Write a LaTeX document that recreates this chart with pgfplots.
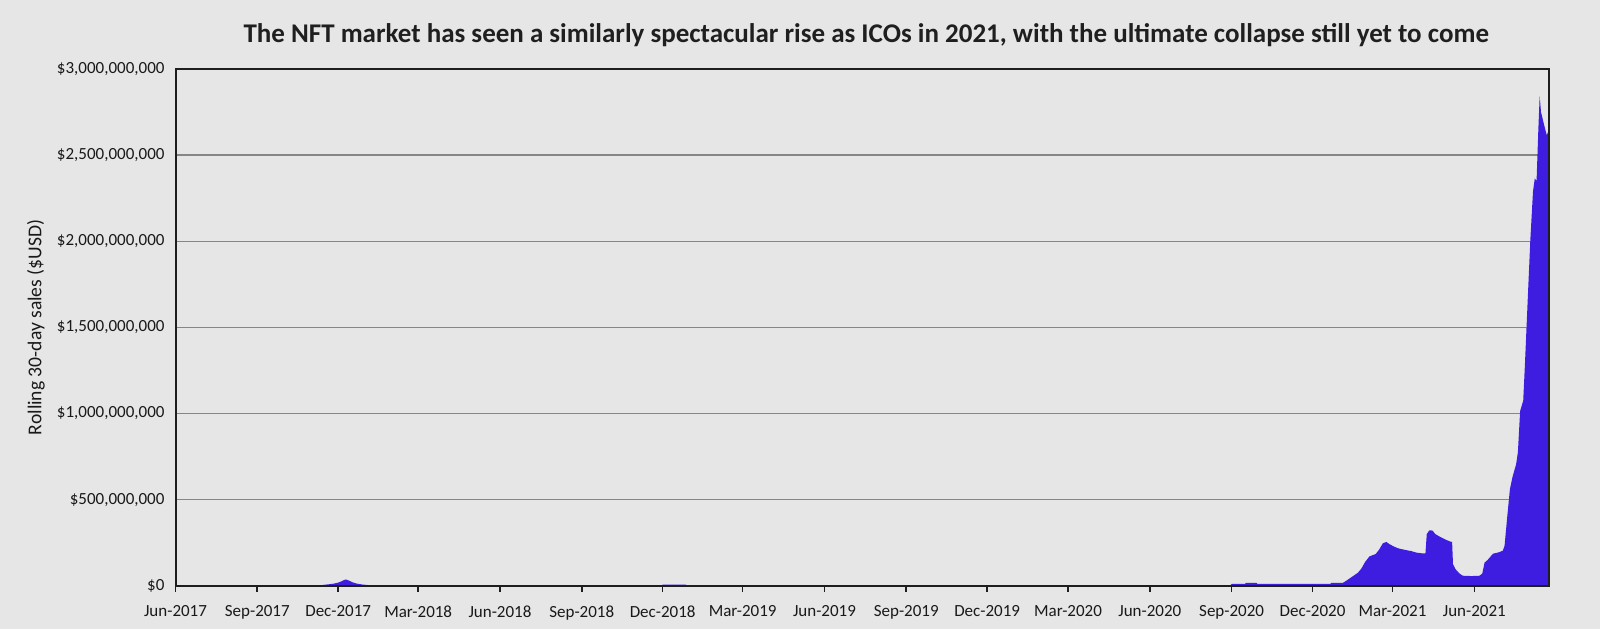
\documentclass[border=0pt]{standalone}
\usepackage{pgfplots}
\pgfplotsset{compat=1.18}
\usepackage{fontspec}
\setmainfont{Carlito}
\definecolor{bg}{RGB}{230,230,230}
\definecolor{nftblue}{RGB}{62,28,224}
\definecolor{gridgray}{RGB}{134,134,134}
\definecolor{framec}{RGB}{30,30,30}
\pagecolor{bg}
\pgfplotsset{
  layers/mylayers/.define layer set={
    axis background,axis grid,main,axis ticks,axis lines,axis tick labels,axis descriptions,axis foreground
  }{
    grid style={/pgfplots/on layer=axis grid},
    tick style={/pgfplots/on layer=axis ticks},
    axis line style={/pgfplots/on layer=axis lines},
    label style={/pgfplots/on layer=axis descriptions},
    title style={/pgfplots/on layer=axis descriptions},
    ticklabel style={/pgfplots/on layer=axis tick labels},
  },
}
\pgfplotstableread{
d v
0 0
150 0
160 1
165 4
172 8
178 12
183 18
187 26
190 34
192 36
195 30
199 20
204 12
210 7
216 4
222 1.5
230 0.5
280 0.3
546 0.3
548 6
574 6
576 0.5
900 0.5
1186 0.5
1188 10
1203 10
1204 16
1216 16
1217 10
1299 10
1300 16
1313 16
1317 29
1324 54
1330 75
1334 100
1338 137
1343 170
1350 184
1354 210
1358 246
1362 254
1366 240
1371 226
1376 216
1384 207
1390 201
1396 192
1402 188
1406 188
1407.5 300
1410.5 322
1414 320
1417 300
1422 285
1428 269
1434 256
1436 254
1437 125
1440 95
1444 72
1448 58
1458 56
1467 58
1470 72
1472.5 134
1476 150
1482 186
1488 193
1493 203
1495 232
1498 400
1501 560
1504 633
1508 705
1510 775
1512.5 1014
1516 1075
1518 1295
1521 1655
1524 2010
1527 2290
1529 2365
1531 2350
1533 2650
1534.5 2843
1536 2750
1539.5 2675
1542.5 2615
1545 2650
}\nft
\begin{document}
\begin{tikzpicture}
\path (0,0) rectangle (800pt,314.5pt);
\begin{axis}[
  set layers=mylayers,
  at={(87.75pt,21.65pt)}, anchor=south west,
  width=686.75pt, height=258.35pt, scale only axis,
  xmin=0, xmax=1545, ymin=0, ymax=3000,
  axis line style={draw=framec, line width=1pt},
  xtick={0,92,183,273,365,457,548,638,730,822,913,1004,1096,1188,1279,1369,1461},
  xticklabels={Jun-2017,Sep-2017,Dec-2017,Mar-2018,Jun-2018,Sep-2018,Dec-2018,Mar-2019,Jun-2019,Sep-2019,Dec-2019,Mar-2020,Jun-2020,Sep-2020,Dec-2020,Mar-2021,Jun-2021},
  ytick={0,500,1000,1500,2000,2500,3000},
  yticklabels={{\$0},{\$500,000,000},{\$1,000,000,000},{\$1,500,000,000},{\$2,000,000,000},{\$2,500,000,000},{\$3,000,000,000}},
  xtick pos=bottom, ytick pos=left,
  xtick align=outside,
  major tick length=3pt,
  xtick style={draw=framec, line width=0.8pt},
  ytick style={draw=none},
  ymajorgrids, grid style={draw=gridgray, line width=0.7pt},
  ticklabel style={font=\fontsize{8.5}{9.5}\selectfont, text=black!90},
  yticklabel style={xshift=-2pt},
  xticklabel style={yshift=-3.5pt},
  ylabel={Rolling 30-day sales (\$USD)},
  ylabel style={font=\fontsize{9.8}{11}\selectfont, at={(axis description cs:0,0.5)}, anchor=center, yshift=69.75pt, text=black!90},
  title={\textbf{The NFT market has seen a similarly spectacular rise as ICOs in 2021, with the ultimate collapse still yet to come}},
  title style={font=\fontsize{13.5}{15}\selectfont, at={(axis description cs:0.5,1)}, anchor=center, yshift=11pt, xshift=2pt, text=black!88},
]
\addplot[fill=nftblue, draw=none] table[x=d, y=v] {\nft} \closedcycle;
\end{axis}
\end{tikzpicture}
\end{document}
